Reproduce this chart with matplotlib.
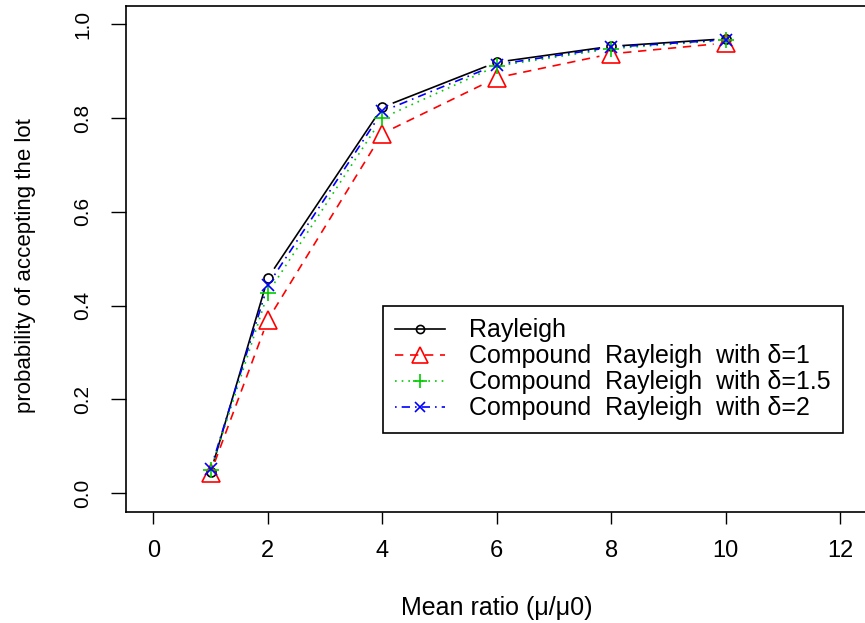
import numpy as np
import matplotlib
matplotlib.use("Agg")
import matplotlib.pyplot as plt

plt.rcParams['font.family'] = ['Liberation Sans', 'DejaVu Sans']

# mean ratio and acceptance probabilities
ratio = [1, 2, 4, 6, 8, 10]
rayleigh = [0.045, 0.459, 0.823, 0.919, 0.953, 0.969]
compound_d1 = [0.043, 0.370, 0.767, 0.886, 0.937, 0.960]
compound_d15 = [0.049, 0.427, 0.800, 0.911, 0.948, 0.966]
compound_d2 = [0.052, 0.444, 0.814, 0.914, 0.951, 0.967]

labels = ['Rayleigh',
          'Compound  Rayleigh  with δ=1',
          'Compound  Rayleigh  with δ=1.5',
          'Compound  Rayleigh  with δ=2']

styles = [
    dict(color='black', ls='-', marker='o', ms=6.5, mfc='none'),
    dict(color='#FF0000', ls=(0, (5, 4)), marker='^', ms=12.5, mfc='none'),
    dict(color='#00CD00', ls=(0, (1, 3)), marker='+', ms=11),
    dict(color='#0000FF', ls=(0, (1, 3, 5, 3)), marker='x', ms=8.5),
]

W, H = 865, 623
fig = plt.figure(figsize=(W / 100, H / 100), dpi=100)
ax = fig.add_axes([126 / W, 1 - 512 / H, 741.5 / W, 506.5 / H])
ax.set_xlim(-0.48, 12.48)
ax.set_ylim(-0.04, 1.04)


def gapped(ax, x, y, gap=12, **kw):
    # R type="b": line segments stop short of each point
    pts = ax.transData.transform(np.column_stack([x, y]))
    inv = ax.transData.inverted()
    xs, ys = [], []
    for p, q in zip(pts[:-1], pts[1:]):
        d = q - p
        n = np.hypot(*d)
        if n <= 2 * gap:
            continue
        a = inv.transform(p + d / n * gap)
        b = inv.transform(q - d / n * gap)
        xs += [a[0], b[0], np.nan]
        ys += [a[1], b[1], np.nan]
    ax.plot(xs, ys, color=kw['color'], ls=kw['ls'], lw=1.2)


series = [rayleigh, compound_d1, compound_d15, compound_d2]
for vals, st, lab in zip(series, styles, labels):
    gapped(ax, ratio, vals, color=st['color'], ls=st['ls'])
    ax.plot(ratio, vals, ls='none', marker=st['marker'], ms=st['ms'],
            color=st['color'], mfc=st.get('mfc', st['color']), mew=1.2)
    # legend proxy
    ax.plot([], [], color=st['color'], ls=st['ls'], lw=1.2, marker=st['marker'],
            ms=st['ms'] * 0.9, mfc=st.get('mfc', st['color']), mew=1.2, label=lab)

ax.set_xticks([0, 2, 4, 6, 8, 10, 12])
ax.set_yticks([0.0, 0.2, 0.4, 0.6, 0.8, 1.0])
ax.set_yticklabels(['0.0', '0.2', '0.4', '0.6', '0.8', '1.0'])
ax.tick_params(axis='x', length=8.5, width=1, pad=12, labelsize=17)
ax.tick_params(axis='y', length=10.5, width=1, pad=14, labelsize=15, labelrotation=90)
for t in ax.get_yticklabels():
    t.set_va('center')

for s in ax.spines.values():
    s.set_linewidth(1.2)
    s.set_color('black')

ax.set_xlabel('Mean ratio (μ/μ0)', fontsize=18)
ax.xaxis.set_label_coords(0.5, -0.165)
ax.set_ylabel('probability of accepting the lot', fontsize=16, va='center')
ax.yaxis.set_label_coords(-0.136, 0.486)

leg = ax.legend(loc='upper left', bbox_to_anchor=((383 - 126) / 741.5, (512 - 306) / 506.5),
                fontsize=18, frameon=True, fancybox=False, edgecolor='black',
                framealpha=1, handlelength=2.0, handletextpad=0.95, borderpad=0.5,
                labelspacing=0.08, borderaxespad=0)
leg.get_frame().set_linewidth(1.2)

fig.savefig('out.png', dpi=100)
